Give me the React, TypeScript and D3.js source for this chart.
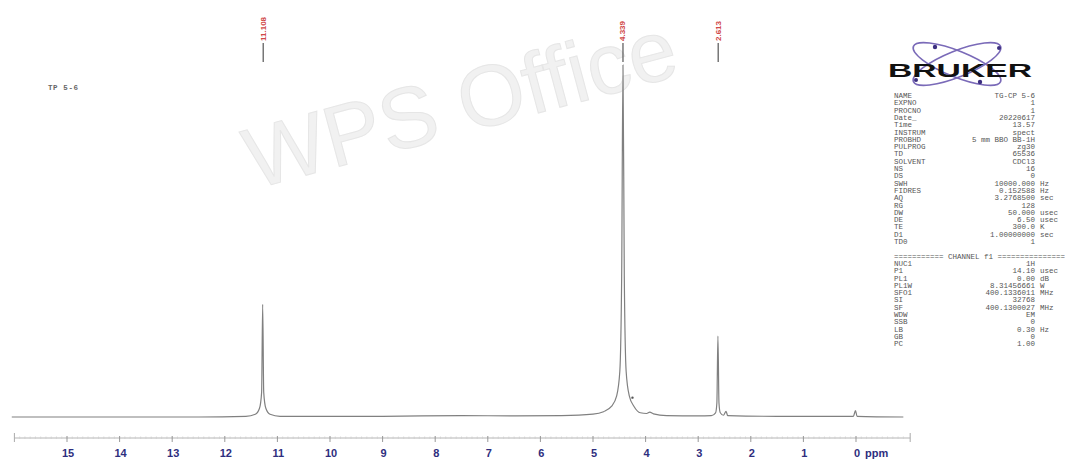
import React from "react";
import * as d3 from "d3";

// ---- data ----
const axisTicks = [15, 14, 13, 12, 11, 10, 9, 8, 7, 6, 5, 4, 3, 2, 1, 0];
// spectrum trace points: [ppm, relative intensity]
const spectrumPoints: [number, number][] = [
  [16.05, 0], [12.5, 0.0], [11.6, 0.002], [11.42, 0.008], [11.34, 0.025], [11.3, 0.07],
  [11.28, 0.32], [11.26, 0.07], [11.22, 0.025], [11.14, 0.008], [10.95, 0.002],
  [9.0, 0.002], [7.5, 0.004], [6.5, 0.003], [5.6, 0.004], [5.0, 0.008], [4.8, 0.015],
  [4.65, 0.03], [4.55, 0.06], [4.49, 0.13], [4.455, 0.4], [4.43, 1.0], [4.405, 0.4],
  [4.37, 0.13], [4.31, 0.06], [4.22, 0.03], [4.1, 0.012], [3.98, 0.01], [3.92, 0.014],
  [3.85, 0.009], [3.6, 0.004], [3.0, 0.003], [2.75, 0.004], [2.67, 0.012], [2.645, 0.04],
  [2.625, 0.23], [2.605, 0.04], [2.58, 0.012], [2.52, 0.005], [2.47, 0.016], [2.44, 0.004],
  [1.5, 0.002], [0.05, 0.002], [0.01, 0.018], [-0.02, 0.002], [-0.9, 0.0],
];
const peakPositions = [11.27, 4.43, 2.62];
const peakLabels = ["11.108", "4.339", "2.613"];
const impurityDot: [number, number] = [4.25, 0.055];

const title = "TP 5-6";
const paramNames = [
  "NAME", "EXPNO", "PROCNO", "Date_", "Time", "INSTRUM", "PROBHD", "PULPROG", "TD",
  "SOLVENT", "NS", "DS", "SWH", "FIDRES", "AQ", "RG", "DW", "DE", "TE", "D1", "TD0",
];
const paramValues = [
  "TG-CP 5-6", "1", "1", "20220617", "13.57", "spect", "5 mm BBO BB-1H", "zg30", "65536",
  "CDCl3", "16", "0", "10000.000", "0.152588", "3.2768500", "128", "50.000", "6.50",
  "300.0", "1.00000000", "1",
];
const paramUnits = [
  "", "", "", "", "", "", "", "", "", "", "", "", "Hz", "Hz", "sec", "", "usec", "usec",
  "K", "sec", "",
];
const channelHeader = "=========== CHANNEL f1 ===============";
const chanNames = ["NUC1", "P1", "PL1", "PL1W", "SFO1", "SI", "SF", "WDW", "SSB", "LB", "GB", "PC"];
const chanValues = [
  "1H", "14.10", "0.00", "8.31456661", "400.1336011", "32768", "400.1300027", "EM", "0",
  "0.30", "0", "1.00",
];
const chanUnits = ["", "usec", "dB", "W", "MHz", "", "MHz", "", "", "Hz", "", ""];

export default function App() {
  const W = 1065;
  const H = 461;
  const x = d3.scaleLinear().domain([15, 0]).range([67, 856]);
  const y = d3.scaleLinear().domain([0, 1]).range([417, 65]);
  const axisY = 438;
  const line = d3
    .line<[number, number]>()
    .x((d) => x(d[0]))
    .y((d) => y(d[1]))
    .curve(d3.curveMonotoneX);

  const minor = d3.range(-10, 161).map((v) => v / 10).filter((v) => v > -0.95 && v < 15.95);

  const mono = "'Liberation Mono', 'DejaVu Sans Mono', monospace";
  const pTop = 98;
  const pStep = 7.3;
  const nameX = 894;
  const valX = 1035;
  const unitX = 1040;
  const chanStart = paramNames.length + 1;

  return (
    <svg
      width={W}
      height={H}
      style={{ position: "absolute", left: 0, top: 0, background: "#fff" }}
      fontFamily="'Liberation Sans', Arial, sans-serif"
    >
      <rect width={W} height={H} fill="#fff" />
      {/* watermark */}
      <text
        x={468}
        y={132}
        transform="rotate(-15 468 132)"
        textAnchor="middle"
        fontSize={86}
        fill="#f1f1f1"
        stroke="#e6e6e6"
        strokeWidth={1}
      >
        WPS Office
      </text>

      {/* title */}
      <text x={48} y={90} fontFamily={mono} fontSize={7.5} fontWeight="bold" fill="#666" letterSpacing={0.6}>
        {title}
      </text>

      {/* spectrum */}
      <path d={line(spectrumPoints) || ""} fill="none" stroke="#808080" strokeWidth={1.2} />
      <circle cx={x(impurityDot[0])} cy={y(impurityDot[1])} r={1.2} fill="#555" />

      {/* peak labels */}
      {peakPositions.map((p, i) => (
        <g key={i}>
          <line x1={x(p)} x2={x(p)} y1={43} y2={62} stroke="#555" strokeWidth={1.2} />
          <text
            transform={`translate(${x(p) + 2.5},${41}) rotate(-90)`}
            fontSize={8}
            fill="#d04848"
            fontWeight="bold"
          >
            {peakLabels[i]}
          </text>
        </g>
      ))}

      {/* axis */}
      <line x1={x(16.0)} x2={x(-1.03)} y1={axisY} y2={axisY} stroke="#b5b5b5" strokeWidth={1} />
      {minor.map((v) => (
        <line key={"m" + v} x1={x(v)} x2={x(v)} y1={axisY - 1.5} y2={axisY + 1} stroke="#cfcfcf" strokeWidth={0.8} />
      ))}
      {axisTicks.map((t) => (
        <line key={"t" + t} x1={x(t)} x2={x(t)} y1={axisY - 2} y2={axisY + 4} stroke="#999" strokeWidth={1} />
      ))}
      <line x1={x(16.0)} x2={x(16.0)} y1={axisY - 5} y2={axisY + 4} stroke="#aaa" />
      <line x1={x(-1.03)} x2={x(-1.03)} y1={axisY - 5} y2={axisY + 4} stroke="#aaa" />
      {axisTicks.map((t) => (
        <text
          key={"l" + t}
          x={x(t) + 1}
          y={457}
          textAnchor="middle"
          fontSize={11}
          fontWeight="bold"
          fill="#2e2e7e"
        >
          {t}
        </text>
      ))}
      <text x={x(0) + 9} y={457} fontSize={11} fontWeight="bold" fill="#2e2e7e">
        ppm
      </text>

      {/* Bruker logo */}
      <g>
        <ellipse cx={957} cy={64} rx={47} ry={13} fill="none" stroke="#7a6ab8" strokeWidth={1.6} transform="rotate(22 957 64)" />
        <ellipse cx={957} cy={64} rx={47} ry={13} fill="none" stroke="#7a6ab8" strokeWidth={1.6} transform="rotate(-22 957 64)" />
        <circle cx={935} cy={47} r={2.2} fill="#3c2f80" />
        <circle cx={980} cy={82} r={2.2} fill="#3c2f80" />
        <circle cx={916} cy={80} r={2} fill="#3c2f80" />
        <circle cx={999} cy={48} r={2} fill="#3c2f80" />
        <text
          x={888}
          y={77}
          fontSize={18}
          fontWeight="900"
          fill="#111"
          textLength={144}
          lengthAdjust="spacingAndGlyphs"
        >
          BRUKER
        </text>
      </g>

      {/* parameters */}
      <g fontFamily={mono} fontSize={7.5} fill="#555">
        {paramNames.map((n, i) => (
          <g key={"p" + i}>
            <text x={nameX} y={pTop + i * pStep}>{n}</text>
            <text x={valX} y={pTop + i * pStep} textAnchor="end">{paramValues[i]}</text>
            {paramUnits[i] && <text x={unitX} y={pTop + i * pStep}>{paramUnits[i]}</text>}
          </g>
        ))}
        <text x={nameX} y={pTop + chanStart * pStep}>{channelHeader}</text>
        {chanNames.map((n, i) => (
          <g key={"c" + i}>
            <text x={nameX} y={pTop + (chanStart + 1 + i) * pStep}>{n}</text>
            <text x={valX} y={pTop + (chanStart + 1 + i) * pStep} textAnchor="end">{chanValues[i]}</text>
            {chanUnits[i] && <text x={unitX} y={pTop + (chanStart + 1 + i) * pStep}>{chanUnits[i]}</text>}
          </g>
        ))}
      </g>
    </svg>
  );
}
